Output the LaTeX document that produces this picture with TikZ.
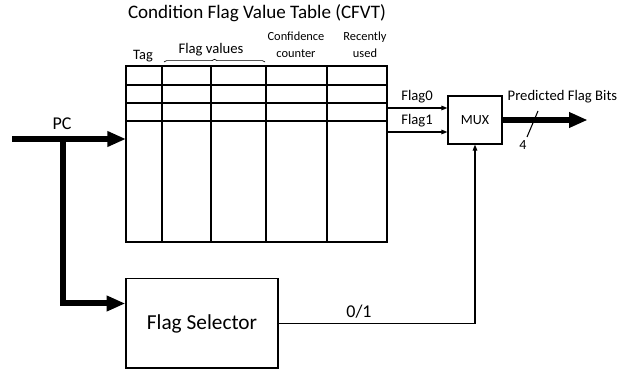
\documentclass[tikz,border=0pt]{standalone}
\usepackage{fontspec}
\setmainfont{Carlito}
\usetikzlibrary{positioning,calc,arrows.meta,decorations.pathreplacing}

\begin{document}
\begin{tikzpicture}[x=0.75pt,y=-0.75pt]
	\tikzset{
		grid/.style={line width=1pt},
		wire/.style={line width=0.8pt,-{Triangle[length=4.5pt,width=3.5pt]}},
		bus/.style={line width=4.5pt,-{Triangle[length=14pt,width=11pt]}},
		blk/.style={draw,line width=1pt,inner sep=0pt,align=center}
	}
	\useasboundingbox (0,0) rectangle (629,370);
	
	% ---------- CFVT table ----------
	\node[font=\fontsize{14.3}{16}\selectfont] (title) at (257,13) {Condition Flag Value Table (CFVT)};
	\draw[grid] (126,66) rectangle (387,242);
	\foreach \y in {85,103,121}
		\draw[grid] (126,\y) -- (387,\y);
	\foreach \x in {162,211,266,327}
		\draw[grid] (\x,66) -- (\x,242);
	
	% column headers
	\node[font=\fontsize{10.8}{12}\selectfont] (hdtag) at (143,56) {Tag};
	\node[font=\fontsize{11}{12}\selectfont] (hdflag) at (211,50) {Flag values};
	\draw[line width=0.5pt,decorate,decoration={brace,amplitude=2pt}] (164,62) -- (265,62);
	\node[font=\fontsize{9.3}{12.5}\selectfont,align=center] (hdconf) at (296,45) {Confidence\\counter};
	\node[font=\fontsize{9.3}{12.5}\selectfont,align=center] (hdused) at (365,45) {Recently\\used};
	
	\coordinate (tblin) at (126,139);
	\coordinate (flag0) at (387,108);
	\coordinate (flag1) at (387,132);
	
	% ---------- MUX and selector ----------
	\node[blk,minimum width=40.5pt,minimum height=36pt,font=\fontsize{10.5}{12}\selectfont] (mux) at (475,120) {MUX};
	\node[blk,minimum width=114pt,minimum height=67pt,font=\fontsize{16}{18}\selectfont] (sel) at (202,323.5) {Flag Selector};
	
	% PC input, split to the table and the selector
	\coordinate (pcsrc) at (12,139);
	\coordinate (pcfork) at (63,139);
	\node[font=\fontsize{13.5}{15}\selectfont] (pc) at (62,124) {PC};
	\draw[bus] (pcsrc) -- (tblin);
	\draw[bus] (pcfork) |- ($(sel.west)+(0,-20)$);
	
	% flag outputs into the MUX
	\draw[wire] (flag0) -- (flag0 -| mux.west);
	\draw[wire] (flag1) -- (flag1 -| mux.west);
	\node[font=\fontsize{11}{12}\selectfont] (lbf0) at (417,97) {Flag0};
	\node[font=\fontsize{11}{12}\selectfont] (lbf1) at (417,121) {Flag1};
	
	% select line
	\draw[wire] (sel.east) -| (mux.south);
	\node[font=\fontsize{13.5}{15}\selectfont] (lbsel) at (359,312) {0/1};
	
	% predicted bits
	\draw[bus] (mux.east) -- ++(85,0);
	\draw[line width=0.8pt] (527,137) -- (538,111);
	\node[font=\fontsize{10.5}{12}\selectfont] (lbw) at (523,145) {4};
	\node[font=\fontsize{11}{12}\selectfont,anchor=west] (lbout) at (503,97) {Predicted Flag Bits};
\end{tikzpicture}
\end{document}
